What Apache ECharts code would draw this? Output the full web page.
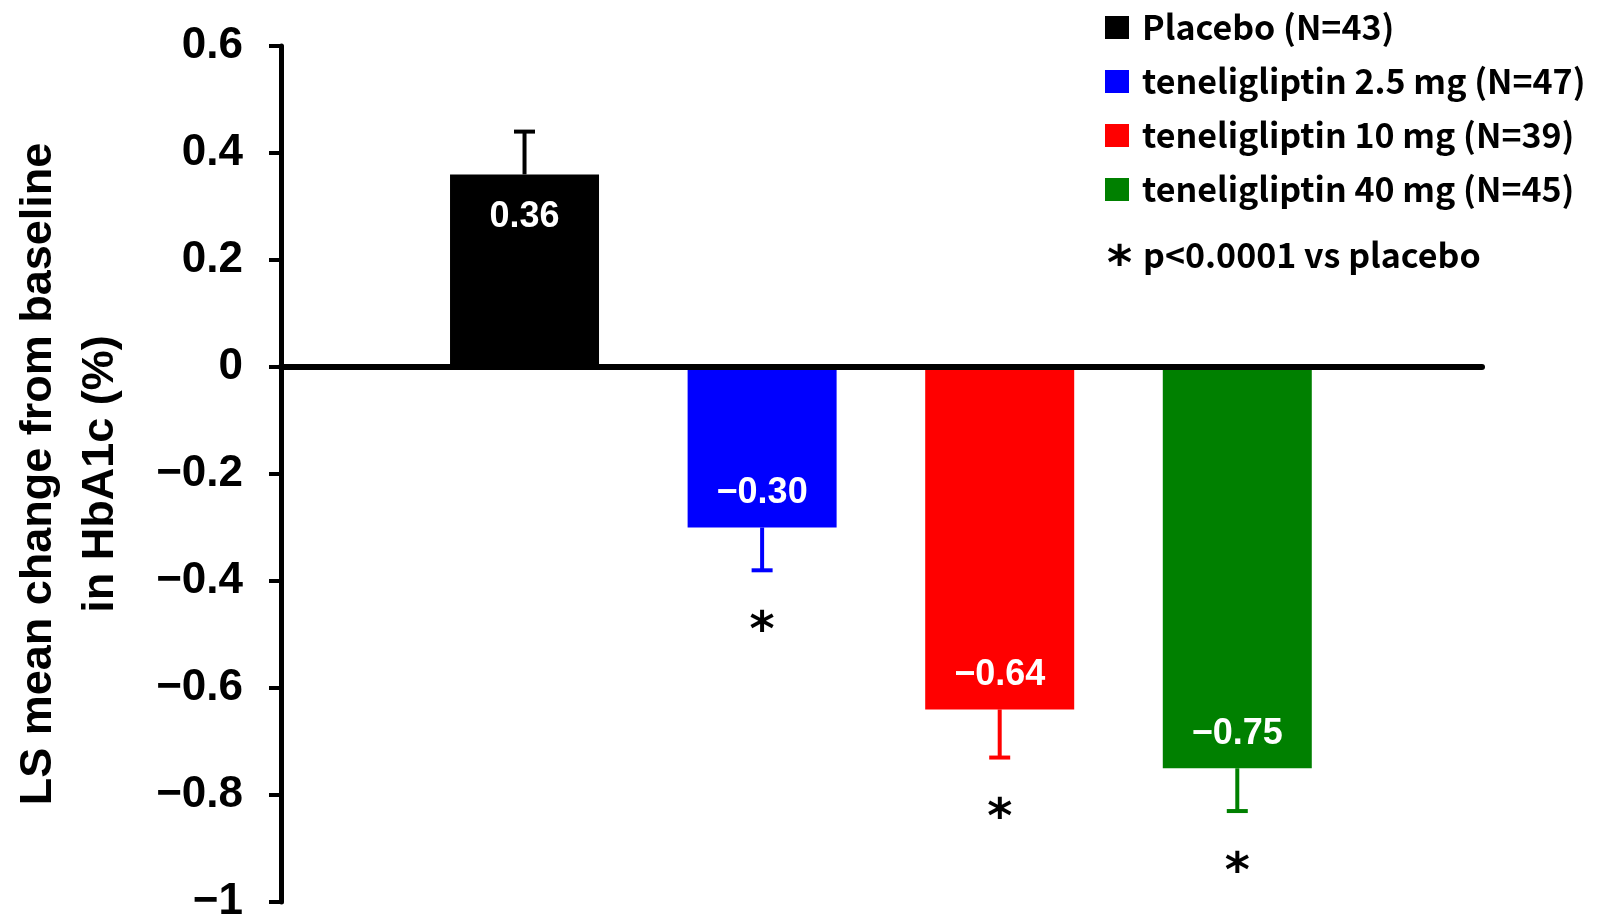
<!DOCTYPE html>
<html>
<head>
<meta charset="utf-8">
<title>LS mean change from baseline in HbA1c</title>
<script src="https://cdn.jsdelivr.net/npm/echarts@6/dist/echarts.min.js"></script>
<style>
  html, body { margin: 0; padding: 0; background: #ffffff; }
  #chart { width: 1614px; height: 924px; }
</style>
</head>
<body>
<div id="chart"></div>
<script>
// Treatment groups, in plotting order
const categories = [
  'Placebo (N=43)',
  'teneligliptin 2.5 mg (N=47)',
  'teneligliptin 10 mg (N=39)',
  'teneligliptin 40 mg (N=45)'
];
// LS mean change from baseline in HbA1c (%)
const lsMeanChange = [0.36, -0.30, -0.64, -0.75];
// Standard error drawn as a one-sided error bar
const standardError = [0.08, 0.08, 0.09, 0.08];
// Groups marked with an asterisk (p<0.0001 vs placebo)
const significant = [false, true, true, true];
const groupColors = ['#000000', '#0000ff', '#ff0000', '#008000'];
// Value axis range and tick spacing
const yMin = -1;
const yMax = 0.6;
const yStep = 0.2;
const footnoteMark = '*';
const footnoteText = 'p<0.0001 vs placebo';

const MINUS = '\u2212';
function fmtTick(v) {
  const r = parseFloat(v.toFixed(1));
  if (r === 0) return '0';
  return r < 0 ? MINUS + Math.abs(r) : String(r);
}
function fmtValue(v) {
  return v < 0 ? MINUS + Math.abs(v).toFixed(2) : v.toFixed(2);
}

const LEGEND_FONT = '"Noto Sans CJK JP", "Noto Sans", sans-serif';
const AXIS_FONT = '"Liberation Sans", Arial, sans-serif';
const STAR_FONT = '"DejaVu Sans", sans-serif';

const barSeries = categories.map((name, i) => {
  const v = lsMeanChange[i];
  return {
    name: name,
    type: 'bar',
    data: [[i + 1, v]],
    barWidth: 149,
    barGap: '-100%',
    itemStyle: { color: groupColors[i] },
    emphasis: { disabled: true },
    z: 2,
    label: {
      show: true,
      position: v >= 0 ? 'insideTop' : 'insideBottom',
      distance: v >= 0 ? 25 : 16,
      formatter: p => fmtValue(p.value[1]),
      color: '#ffffff',
      fontFamily: AXIS_FONT,
      fontWeight: 'bold',
      fontSize: 36,
      lineHeight: 36
    }
  };
});

// Error bars with cap, plus the significance asterisk below them
const errorSeries = {
  type: 'custom',
  name: 'error',
  z: 3,
  silent: true,
  data: categories.map((_, i) => [i + 1, lsMeanChange[i], standardError[i], significant[i] ? 1 : 0, i]),
  renderItem: function (params, api) {
    const x = api.value(0);
    const v = api.value(1);
    const se = api.value(2);
    const sig = api.value(3);
    const idx = api.value(4);
    const dir = v >= 0 ? 1 : -1;
    const start = api.coord([x, v]);
    const end = api.coord([x, v + dir * se]);
    const color = groupColors[idx];
    const capHalf = 10.5;
    const children = [
      {
        type: 'line',
        shape: { x1: start[0], y1: start[1], x2: end[0], y2: end[1] },
        style: { stroke: color, lineWidth: 4 }
      },
      {
        type: 'line',
        shape: { x1: end[0] - capHalf, y1: end[1], x2: end[0] + capHalf, y2: end[1] },
        style: { stroke: color, lineWidth: 4 }
      }
    ];
    if (sig) {
      children.push({
        type: 'text',
        style: {
          text: footnoteMark,
          x: end[0],
          y: end[1] - dir * 62,
          align: 'center',
          verticalAlign: 'middle',
          fontFamily: STAR_FONT,
          fontWeight: 'bold',
          fontSize: 48,
          fill: '#000000'
        }
      });
    }
    return { type: 'group', children: children };
  }
};

const chart = echarts.init(document.getElementById('chart'), null, { renderer: 'canvas' });
chart.setOption({
  animation: false,
  backgroundColor: '#ffffff',
  grid: { left: 280, right: 132, top: 46, bottom: 21, containLabel: false },
  legend: {
    data: categories,
    orient: 'vertical',
    left: 1100,
    top: 5,
    icon: 'rect',
    itemWidth: 24,
    itemHeight: 23,
    itemGap: 19,
    selectedMode: false,
    textStyle: {
      fontFamily: LEGEND_FONT,
      fontWeight: 'bold',
      fontSize: 34,
      color: '#000000',
      lineHeight: 23,
      padding: [12, 0, 0, 8]
    }
  },
  xAxis: {
    type: 'value',
    min: -0.025,
    max: 5.03,
    z: 10,
    axisLine: { show: true, onZero: true, lineStyle: { color: '#000000', width: 6 } },
    axisTick: { show: false },
    axisLabel: { show: false },
    splitLine: { show: false }
  },
  yAxis: {
    type: 'value',
    min: yMin,
    max: yMax,
    interval: yStep,
    z: 10,
    name: 'LS mean change from baseline\nin HbA1c (%)',
    nameLocation: 'middle',
    nameRotate: 90,
    nameGap: 149,
    nameTextStyle: {
      fontFamily: AXIS_FONT,
      fontWeight: 'bold',
      fontSize: 45,
      lineHeight: 62,
      color: '#000000'
    },
    axisLine: { show: true, onZero: false, lineStyle: { color: '#000000', width: 5 } },
    axisTick: { show: true, inside: false, length: 12, lineStyle: { color: '#000000', width: 4 } },
    axisLabel: {
      formatter: fmtTick,
      margin: 38,
      fontFamily: AXIS_FONT,
      fontWeight: 'bold',
      fontSize: 44,
      color: '#000000'
    },
    splitLine: { show: false }
  },
  graphic: [
    {
      type: 'text',
      left: 1107,
      top: 243,
      style: {
        text: footnoteMark,
        fontFamily: STAR_FONT,
        fontWeight: 'bold',
        fontSize: 48,
        fill: '#000000'
      }
    },
    {
      type: 'text',
      left: 1143,
      top: 238,
      style: {
        text: footnoteText,
        fontFamily: LEGEND_FONT,
        fontWeight: 'bold',
        fontSize: 34,
        fill: '#000000'
      }
    }
  ],
  series: barSeries.concat([errorSeries])
});
</script>
</body>
</html>
